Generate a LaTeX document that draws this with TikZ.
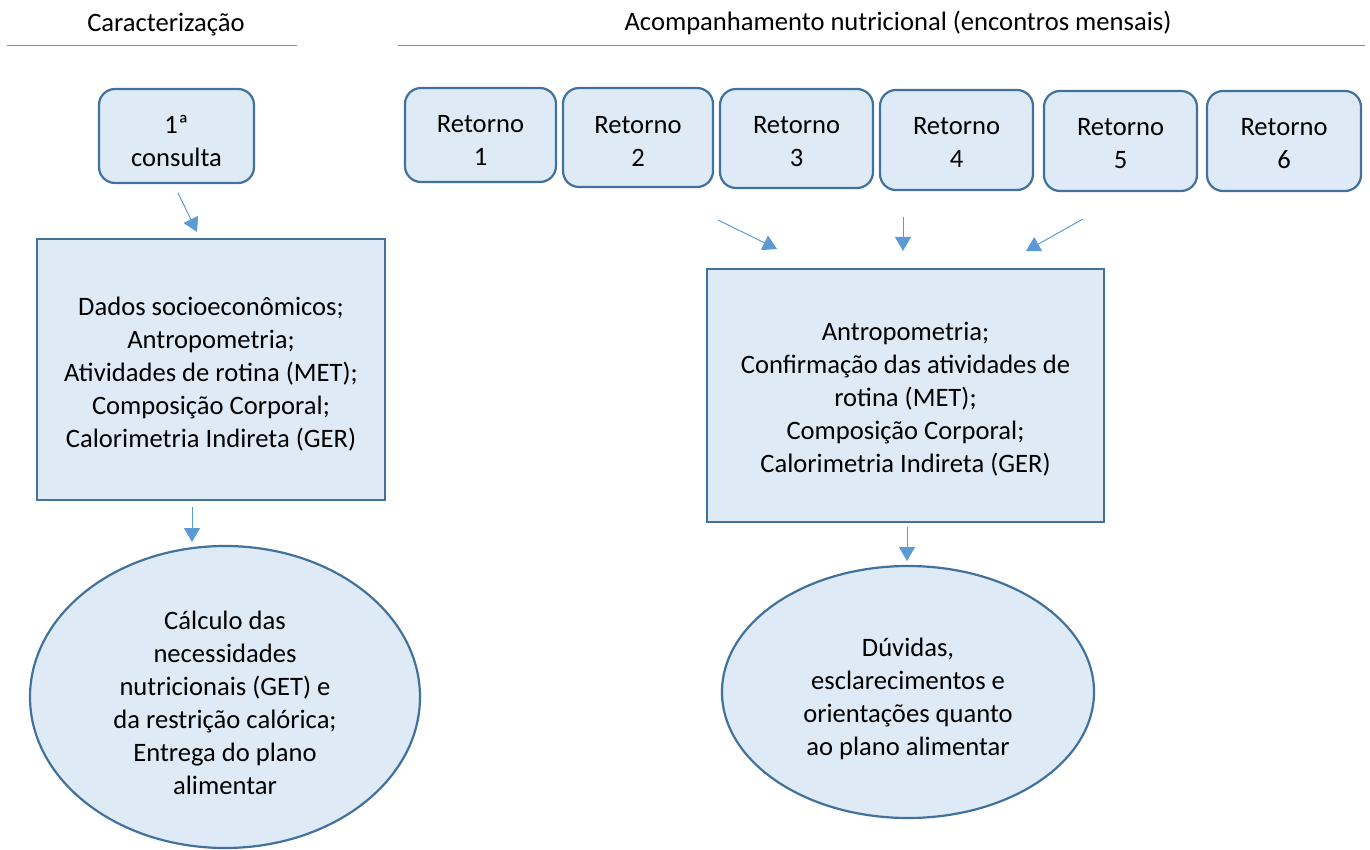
\documentclass[tikz,border=0pt]{standalone}
\usepackage{fontspec}
\setmainfont{Carlito}
\usetikzlibrary{arrows.meta,shapes.geometric}
\definecolor{fillb}{HTML}{DEEAF6}
\definecolor{strokeb}{HTML}{41719C}
\definecolor{arrb}{HTML}{5B9BD5}
\begin{document}
\begin{tikzpicture}[x=1pt,y=-1pt,
  txt/.style={font=\fontsize{26.6}{33}\selectfont, align=center},
  rbox/.style={draw=strokeb, fill=fillb, line width=2.2pt, rounded corners=16pt, inner sep=0pt},
  sbox/.style={draw=strokeb, fill=fillb, line width=2.2pt, inner sep=0pt},
  ebox/.style={ellipse, draw=strokeb, fill=fillb, line width=2.2pt, inner sep=0pt},
  conn/.style={draw=arrb, line width=1pt, -{Triangle[length=14pt,width=16pt]}, arrb},
  rule/.style={draw=arrb, line width=0.9pt}
]
\useasboundingbox (0,0) rectangle (1370,850);

% titles
\node[txt] (t1) at (166,25) {Caracterização};
\node[txt] (t2) at (898,23) {Acompanhamento nutricional (encontros mensais)};
\draw[rule] (7,45) -- (297,45);
\draw[rule] (398,45) -- (1365,45);

% left column
\path (176.5,136) node[rbox, minimum width=155pt, minimum height=94pt] (c1) {}
      ++(0,5) node[txt] (c1t) {1ª\\consulta};
\path (211,369.5) node[sbox, minimum width=348pt, minimum height=261pt] (d1) {}
      ++(0,4.5) node[txt] (d1t) {Dados socioeconômicos;\\Antropometria;\\Atividades de rotina (MET);\\Composição Corporal;\\Calorimetria Indireta (GER)};
\path (225,697) node[ebox, minimum width=390pt, minimum height=302pt] (e1) {}
      ++(0,6) node[txt] (e1t) {Cálculo das\\necessidades\\nutricionais (GET) e\\da restrição calórica;\\Entrega do plano\\alimentar};

% retornos
\path (480.5,135) node[rbox, minimum width=151pt, minimum height=94pt] (r1) {}
      ++(0,5) node[txt] (r1t) {Retorno\\1};
\path (638,137.5) node[rbox, minimum width=150pt, minimum height=99pt] (r2) {}
      ++(0,3.5) node[txt] (r2t) {Retorno\\2};
\path (796.5,138.5) node[rbox, minimum width=153pt, minimum height=99pt] (r3) {}
      ++(0,3.5) node[txt] (r3t) {Retorno\\3};
\path (956.5,140) node[rbox, minimum width=153pt, minimum height=100pt] (r4) {}
      ++(0,2) node[txt] (r4t) {Retorno\\4};
\path (1120.5,141) node[rbox, minimum width=153pt, minimum height=100pt] (r5) {}
      ++(0,2.5) node[txt] (r5t) {Retorno\\5};
\path (1284,141) node[rbox, minimum width=154pt, minimum height=100pt] (r6) {}
      ++(0,2.5) node[txt] (r6t) {Retorno\\6};

% right column
\path (905.5,395.5) node[sbox, minimum width=397pt, minimum height=253pt] (d2) {}
      ++(0,4) node[txt] (d2t) {Antropometria;\\Confirmação das atividades de\\rotina (MET);\\Composição Corporal;\\Calorimetria Indireta (GER)};
\path (908,692) node[ebox, minimum width=372pt, minimum height=252pt] (e2) {}
      ++(0,6.5) node[txt] (e2t) {Dúvidas,\\esclarecimentos e\\orientações quanto\\ao plano alimentar};

% arrow end points
\coordinate (a1s) at (178,193); \coordinate (a1e) at (197,232);
\coordinate (a2s) at (192,507); \coordinate (a2e) at (192,542);
\coordinate (a3s) at (718,220); \coordinate (a3e) at (777,249);
\coordinate (a4s) at (903,217); \coordinate (a4e) at (903,251);
\coordinate (a5s) at (1083,219); \coordinate (a5e) at (1026,251);
\coordinate (a6s) at (907,527); \coordinate (a6e) at (907,561);

\draw[conn] (a1s) -- (a1e);
\draw[conn] (a2s) -- (a2e);
\draw[conn] (a3s) -- (a3e);
\draw[conn] (a4s) -- (a4e);
\draw[conn] (a5s) -- (a5e);
\draw[conn] (a6s) -- (a6e);
\end{tikzpicture}
\end{document}
